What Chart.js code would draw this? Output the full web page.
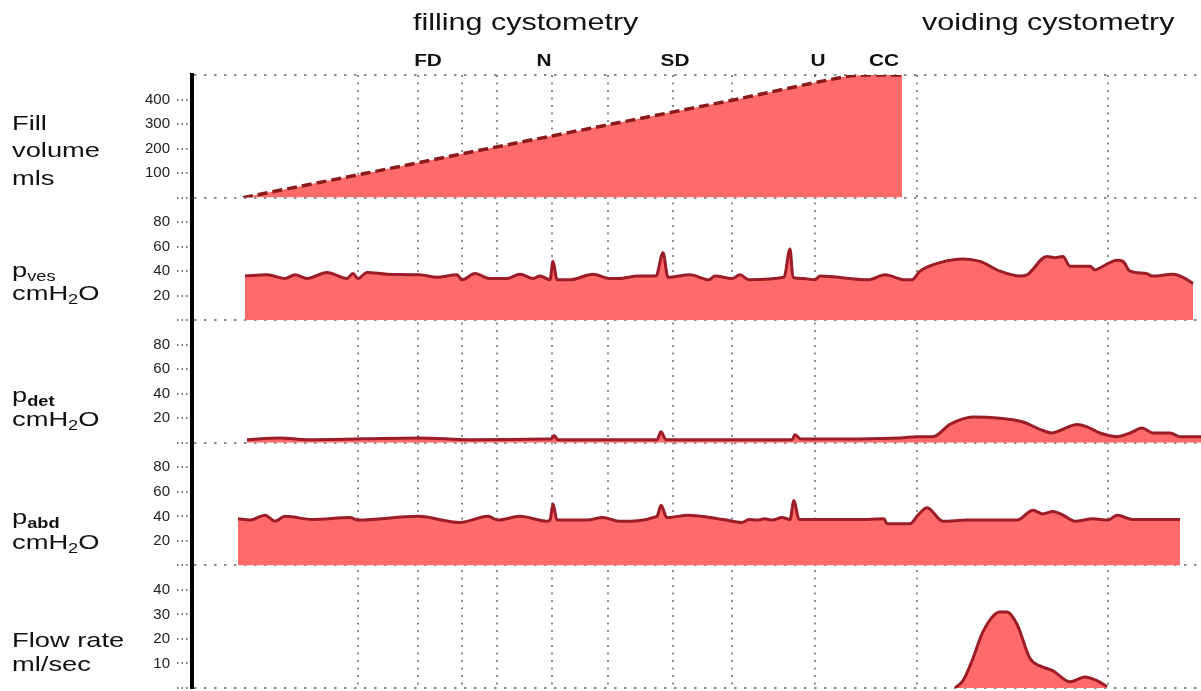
<!DOCTYPE html>
<html>
<head>
<meta charset="utf-8">
<script src="https://cdn.jsdelivr.net/npm/chart.js@4.4.1/dist/chart.umd.min.js"></script>
<style>
body { margin: 0; background: #fff; }
#wrap { position: relative; width: 1201px; height: 691px; overflow: hidden; font-family: "Liberation Sans", Arial, sans-serif; color: #111; }
#wrap canvas { position: absolute; left: 0; top: 0; }
.lbl { position: absolute; left: 12px; font-size: 21px; line-height: 1; white-space: nowrap; transform: scaleX(1.3); transform-origin: 0 0; }
.ttl { position: absolute; top: 10px; font-size: 24px; line-height: 1; white-space: nowrap; transform: scaleX(1.27); transform-origin: 0 0; }
.lbl sub { font-size: 14px; vertical-align: baseline; position: relative; top: 4px; }
.lbl sub.b { font-weight: bold; }
</style>
</head>
<body>
<div id="wrap">
  <canvas id="uroChart"></canvas>
  <div class="ttl" style="left:413px">filling cystometry</div>
  <div class="ttl" style="left:922px">voiding cystometry</div>
  <div class="lbl" style="top:112px">Fill</div>
  <div class="lbl" style="top:139px">volume</div>
  <div class="lbl" style="top:167px">mls</div>
  <div class="lbl" style="top:259px">p<sub>ves</sub></div>
  <div class="lbl" style="top:282px">cmH<sub>2</sub>O</div>
  <div class="lbl" style="top:384px">p<sub class="b">det</sub></div>
  <div class="lbl" style="top:408px">cmH<sub>2</sub>O</div>
  <div class="lbl" style="top:506px">p<sub class="b">abd</sub></div>
  <div class="lbl" style="top:531px">cmH<sub>2</sub>O</div>
  <div class="lbl" style="top:629px">Flow rate</div>
  <div class="lbl" style="top:653px">ml/sec</div>
</div>
<script>
// time axis (s)
const timeMax = 1009;
const gridTimes = [166, 226, 270, 305, 360, 416, 481, 540, 623, 725, 916];
const eventNames = ['FD', 'N', 'SD', 'U', 'CC'];
const eventTimes = [236, 352, 483, 626, 692];

// fill volume (ml)
const fillTime = [51, 175, 300, 420, 540, 623, 655, 672, 710];
const fillVolume = [0, 100, 203, 300, 397, 469, 495, 500, 500];

// pves (cmH2O)
const pvesTime = [53, 75, 93, 103, 115, 135, 155, 161, 166, 175, 195, 228, 245, 265, 270, 283, 298, 315, 328, 341, 348, 358, 361, 365, 378, 401, 418, 427, 446, 464, 471, 476, 498, 517, 523, 540, 548, 557, 592, 598, 601, 611, 623, 628, 676, 693, 713, 720, 728, 748, 771, 788, 808, 828, 835, 855, 863, 871, 878, 898, 903, 911, 925, 931, 938, 955, 960, 981, 991, 1001];
const pvesValues = [36, 37, 34, 37, 34, 39, 34, 38, 34, 39, 37.5, 37, 35, 37, 33, 38, 34, 34, 37.5, 34, 36, 33, 48, 33, 33, 37.5, 34, 34, 36, 36, 55, 35, 37, 33, 36, 34, 37, 33, 35, 58, 35, 34, 33, 36, 33, 37, 33, 33, 40, 47, 50, 48, 40, 36, 37, 52, 51, 52, 44, 44, 41, 44, 49, 48, 40, 38, 36, 37.5, 35, 30];

// pdet (cmH2O)
const pdetTime = [55, 88, 115, 228, 278, 355, 359, 362, 366, 428, 465, 469, 474, 600, 603, 609, 708, 726, 741, 758, 781, 808, 831, 848, 860, 868, 885, 895, 908, 925, 938, 950, 961, 978, 988, 1009];
const pdetValues = [2.5, 4, 2.5, 4, 2.5, 3, 3, 6, 2.5, 2.5, 2.5, 9, 2.5, 2.5, 6.5, 3, 4, 5, 5, 15, 21, 20, 17, 11, 8, 10, 15, 13, 8, 5, 8, 12, 8, 8, 5, 5];

// pabd (cmH2O)
const pabdTime = [46, 58, 73, 83, 93, 121, 158, 166, 226, 268, 296, 306, 328, 355, 358, 361, 365, 395, 411, 427, 465, 469, 475, 496, 531, 550, 557, 565, 573, 580, 590, 598, 602, 607, 676, 692, 695, 718, 726, 735, 751, 775, 825, 841, 851, 861, 871, 883, 901, 916, 925, 941, 988];
const pabdValues = [38, 37, 41, 36, 40, 37.5, 39, 37, 40, 35, 40, 37, 40, 36, 37, 50, 37, 37, 39, 36, 40, 49, 39, 41, 37.5, 35, 37.5, 37, 38, 37, 39, 37.5, 53, 37.5, 37.5, 38, 34, 34, 41, 47, 36, 37, 37, 45, 42, 44, 41, 36, 38, 37, 41, 37.5, 37.5];

// flow rate (ml/s)
const flowTime = [763, 771, 780, 791, 808, 815, 825, 838, 848, 861, 878, 893, 905, 915];
const flowValues = [0, 3, 11, 23, 31, 31, 26, 12, 9, 7, 2.5, 4.5, 3, 0.5];

const fillRed = '#ff6b6b';
const lineRed = '#9c1c27';
const dotGrey = 'rgba(0,0,0,0.45)';
const tickFont = { family: '"Liberation Sans", Arial, sans-serif', size: 15 };

function pts(t, v) {
    return t.map((x, i) => ({ x: x, y: v[i] }));
}

function trace(t, v, axis) {
    return {
        data: pts(t, v),
        yAxisID: axis,
        fill: 'origin',
        backgroundColor: fillRed,
        borderColor: lineRed,
        borderWidth: 3,
        pointRadius: 0,
        cubicInterpolationMode: 'monotone'
    };
}

function panelAxis(max, step, weight, drawTop) {
    return {
        type: 'linear',
        position: 'left',
        stack: 'panels',
        stackWeight: 1,
        weight: weight,
        min: 0,
        max: max,
        z: 1,
        afterFit: (s) => {
            s.width = 192;
            s.paddingTop = 0;
            s.paddingBottom = 0;
        },
        ticks: {
            stepSize: step,
            autoSkip: false,
            padding: 7,
            color: '#222',
            font: tickFont,
            callback: (v) => (v === 0 || v === max) ? '' : v
        },
        grid: {
            lineWidth: 2,
            color: (c) => c.tick && (c.tick.value === 0 || (drawTop && c.tick.value === max)) ? dotGrey : 'transparent',
            tickLength: 15,
            tickWidth: 2,
            tickColor: (c) => c.tick && c.tick.value === max ? 'transparent' : '#777',
            tickBorderDash: [1.5, 3]
        },
        border: { display: true, color: '#000', width: 4, dash: [2.5, 7.5] }
    };
}

const eventLabels = {
    id: 'eventLabels',
    afterDraw(chart) {
        const { ctx, scales: { x } } = chart;
        ctx.save();
        ctx.font = 'bold 16px "Liberation Sans", Arial, sans-serif';
        ctx.fillStyle = '#111';
        ctx.textAlign = 'center';
        eventNames.forEach((name, i) => {
            ctx.save();
            ctx.translate(x.getPixelForValue(eventTimes[i]), 66);
            ctx.scale(1.3, 1);
            ctx.fillText(name, 0, 0);
            ctx.restore();
        });
        ctx.restore();
    }
};

new Chart(document.getElementById('uroChart'), {
    type: 'line',
    data: {
        datasets: [
            {
                data: pts(fillTime, fillVolume),
                yAxisID: 'yFill',
                fill: 'origin',
                backgroundColor: fillRed,
                borderColor: '#8b1a1a',
                borderWidth: 3.5,
                borderDash: [10, 5],
                pointRadius: 0,
                tension: 0
            },
            trace(pvesTime, pvesValues, 'yVes'),
            trace(pdetTime, pdetValues, 'yDet'),
            trace(pabdTime, pabdValues, 'yAbd'),
            trace(flowTime, flowValues, 'yFlow')
        ]
    },
    options: {
        responsive: true,
        maintainAspectRatio: false,
        animation: false,
        events: [],
        layout: { padding: { top: 75, right: 0, bottom: 3, left: 0 } },
        plugins: {
            legend: { display: false },
            tooltip: { enabled: false }
        },
        scales: {
            x: {
                type: 'linear',
                min: 0,
                max: timeMax,
                z: 1,
                afterFit: (s) => { s.height = 0; },
                afterBuildTicks: (s) => { s.ticks = gridTimes.map(v => ({ value: v })); },
                ticks: { display: false },
                grid: { color: dotGrey, lineWidth: 2, drawTicks: false },
                border: { display: false, dash: [2, 5.5] }
            },
            yFill: panelAxis(500, 100, 5, true),
            yVes: panelAxis(100, 20, 4, false),
            yDet: panelAxis(100, 20, 3, false),
            yAbd: panelAxis(100, 20, 2, false),
            yFlow: panelAxis(50, 10, 1, false)
        }
    },
    plugins: [eventLabels]
});
</script>
</body>
</html>
